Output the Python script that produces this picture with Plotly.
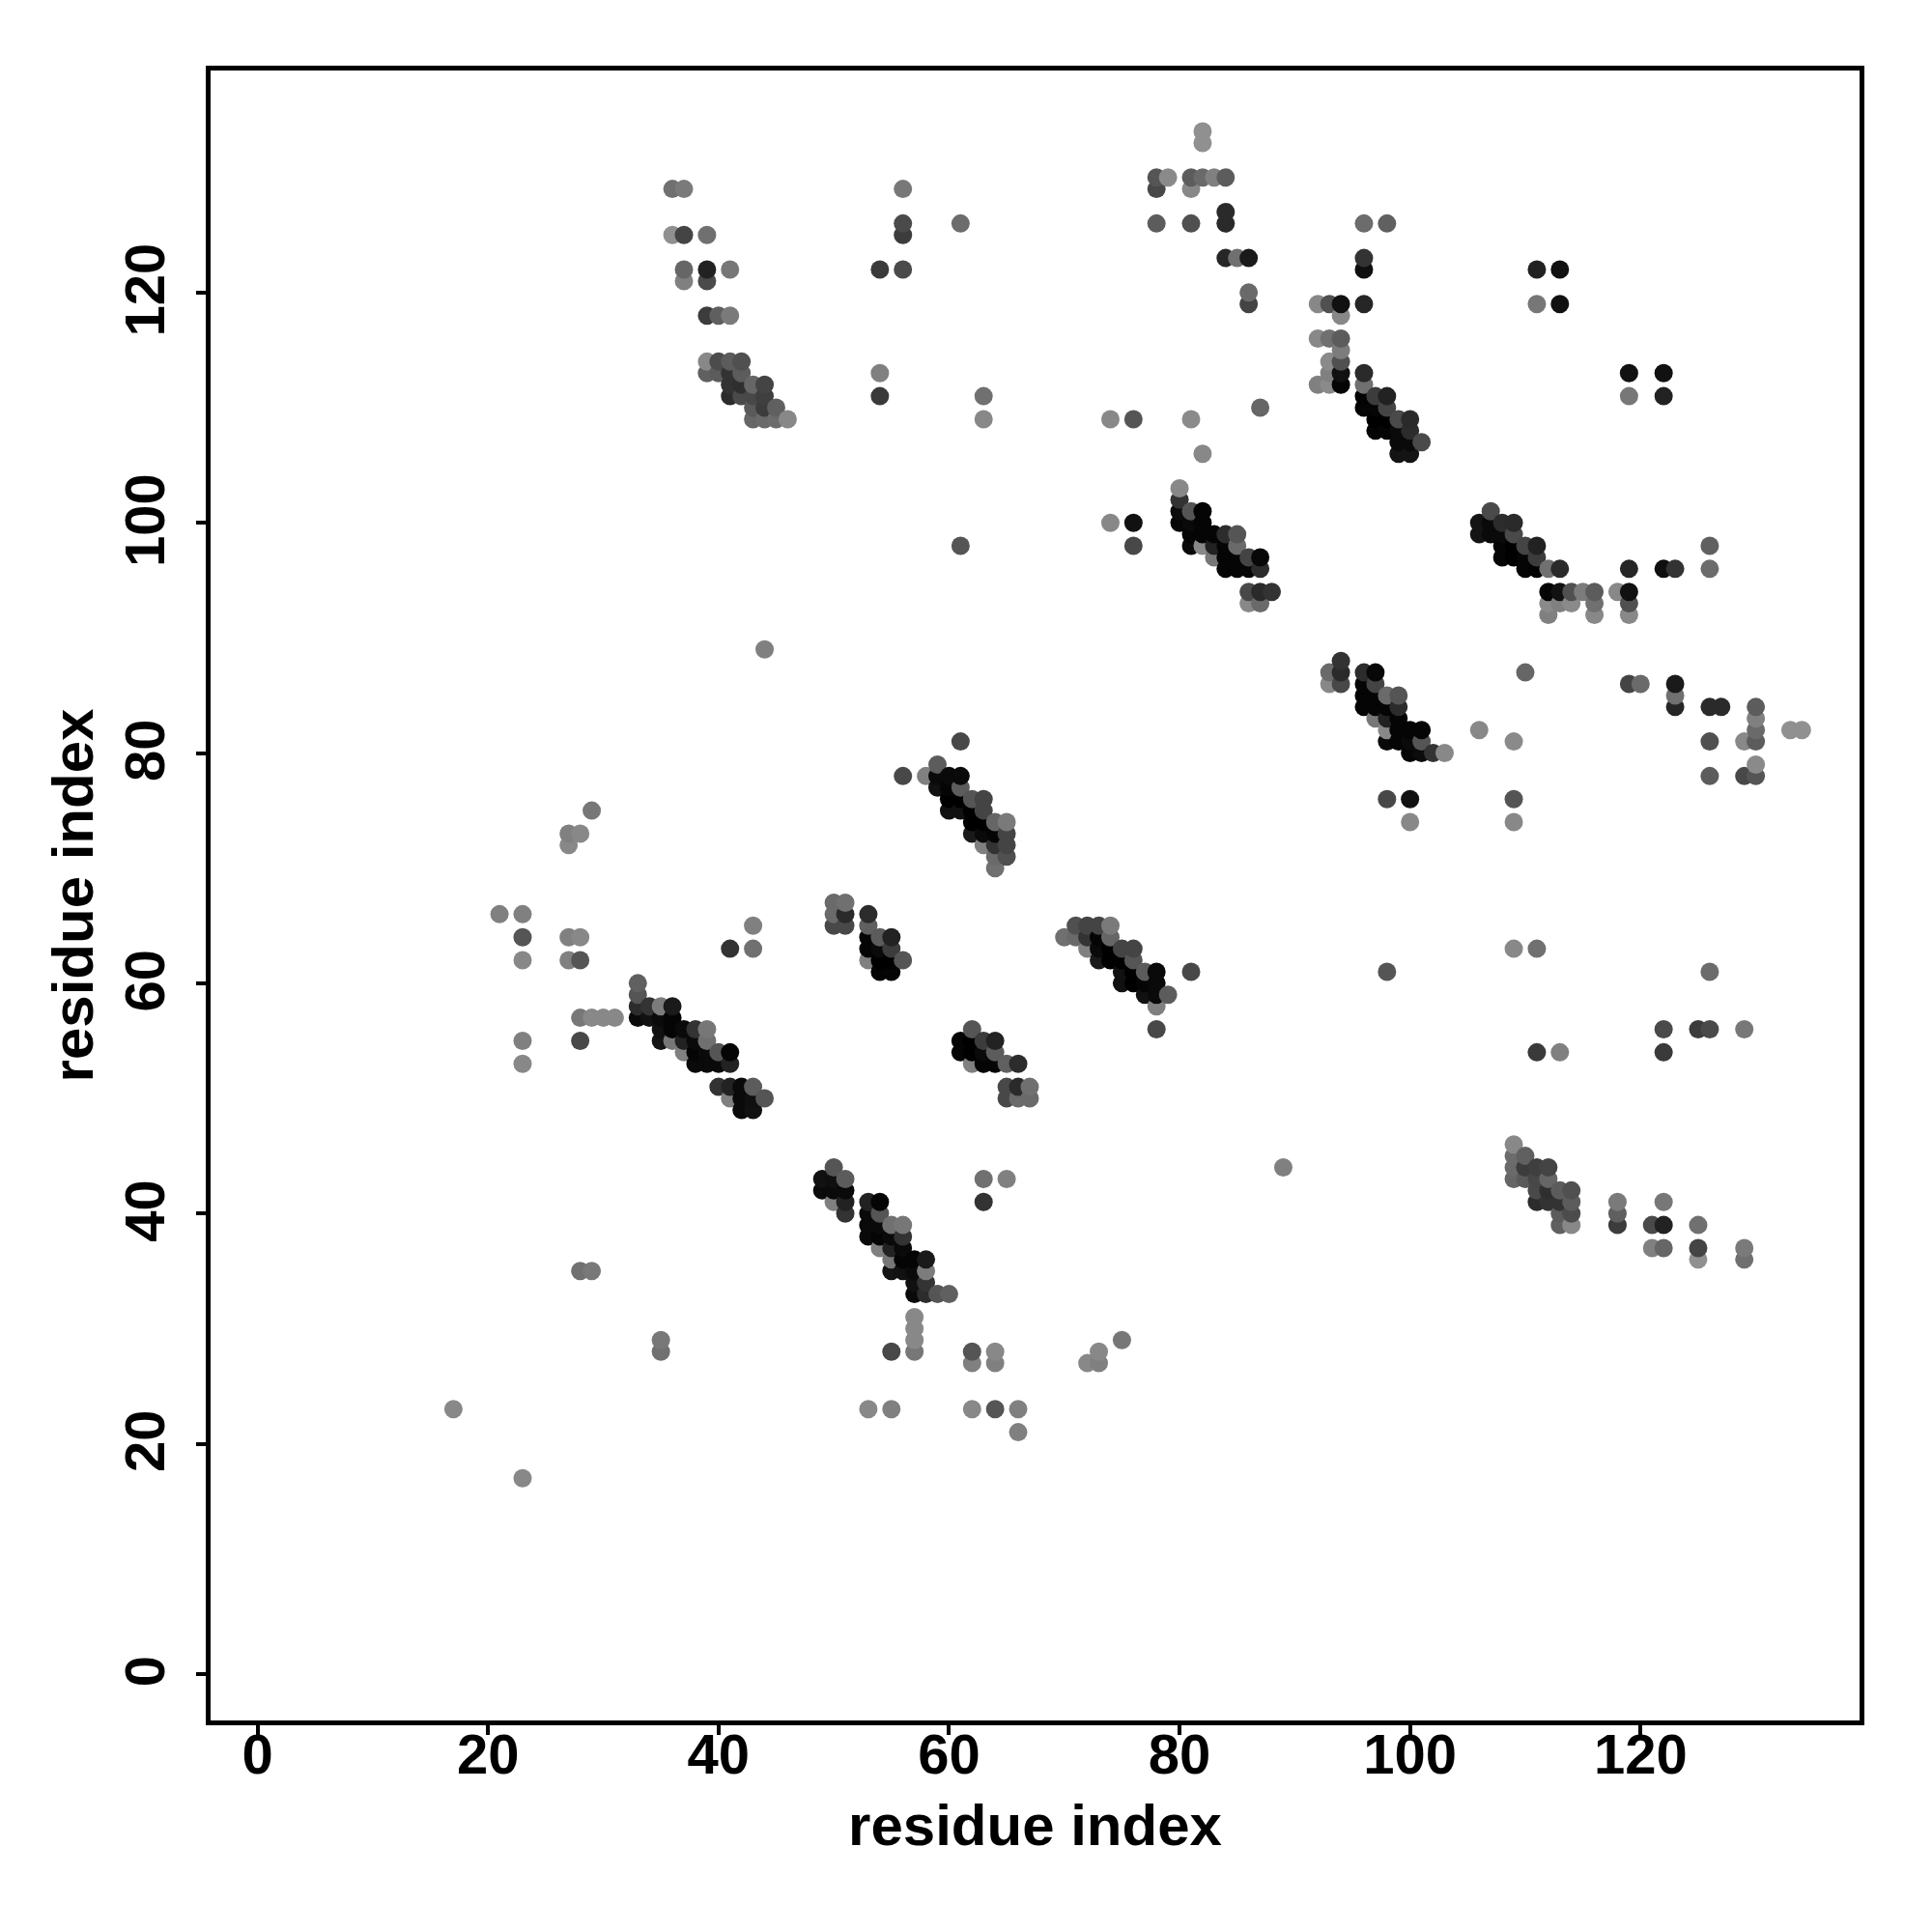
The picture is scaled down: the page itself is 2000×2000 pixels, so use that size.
import plotly.graph_objects as go

strand_a = [(36,129,0x70),(37,129,0x7a),(36,125,0x90),(37,125,0x44),(39,125,0x70),(37,122,0x66),(39,122,0x22),(41,122,0x77),
 (37,121,0x80),(39,121,0x4a),(39,118,0x3c),(40,118,0x5f),(41,118,0x7a),(39,114,0x88),(40,114,0x4c),(41,114,0x5c),(42,114,0x50),
 (39,113,0x60),(40,113,0x5c),(41,113,0x33),(42,113,0x5c),(41,112,0x33),(42,112,0x2f),(43,112,0x66),(44,112,0x44),
 (41,111,0x2c),(42,111,0x4a),(43,111,0x48),(44,111,0x3f),(43,110,0x5a),(44,110,0x3c),(45,110,0x60),
 (43,109,0x66),(44,109,0x6a),(45,109,0x6c),(46,109,0x88)]
isolated_a = [(56,129,0x78),(56,126,0x4a),(61,126,0x6c),(56,125,0x3c),(54,122,0x3a),(56,122,0x4a),(54,113,0x80),(54,111,0x3a),
 (63,111,0x70),(63,109,0x88),(61,98,0x55),(44,89,0x80)]
strand_b = [(82,134,0x90),(82,133,0x90),(78,130,0x55),(79,130,0x8a),(81,130,0x5c),(82,130,0x6a),(83,130,0x80),(84,130,0x5c),
 (78,129,0x48),(81,129,0x88),(84,127,0x2a),(84,126,0x2a),(78,126,0x5c),(81,126,0x50),(96,126,0x6c),(98,126,0x60),
 (84,123,0x26),(85,123,0x70),(86,123,0x1a),(96,123,0x33),(96,122,0x0f),(86,120,0x6a),(86,119,0x44),
 (92,119,0x88),(93,119,0x50),(94,119,0x11),(96,119,0x26),(94,118,0x88),(92,116,0x88),(93,116,0x70),(94,116,0x5c),
 (94,115,0x7c),(93,114,0x8a),(94,114,0x50),(93,113,0x80),(94,113,0x11),(96,113,0x2a),(92,112,0x80),(93,112,0x8a),(94,112,0x05),(96,112,0x70),
 (87,110,0x66),(74,109,0x88),(76,109,0x55),(81,109,0x8a),(82,106,0x88),
 (111,122,0x22),(113,122,0x11),(111,119,0x77),(113,119,0x11)]
strand_c = [(96,111,0x03),(97,111,0x3c),(98,111,0x22),(96,110,0x05),(97,110,0x05),(98,110,0x44),
 (97,109,0x00),(98,109,0x00),(99,109,0x4a),(100,109,0x2a),(97,108,0x05),(98,108,0x05),(99,108,0x0a),(100,108,0x2c),
 (99,107,0x0a),(100,107,0x0a),(101,107,0x4a),(99,106,0x14),(100,106,0x14)]
strand_d = [(74,100,0x88),(76,100,0x11),(76,98,0x48),(80,103,0x88),(80,102,0x33),(80,101,0x0c),(81,101,0x55),(82,101,0x05),
 (80,100,0x05),(81,100,0x0a),(82,100,0x05),(81,99,0x05),(82,99,0x05),(83,99,0x05),(84,99,0x2c),(85,99,0x55),
 (81,98,0x0a),(82,98,0x88),(83,98,0x22),(84,98,0x05),(85,98,0x6a),(83,97,0x77),(84,97,0x05),(85,97,0x05),(86,97,0x44),(87,97,0x08),
 (84,96,0x05),(85,96,0x05),(86,96,0x05),(87,96,0x2c),(86,94,0x48),(87,94,0x2a),(88,94,0x33),(86,93,0x88),(87,93,0x6a)]
helix_e = [(61,81,0x48),(56,78,0x48),(58,78,0x80),(59,79,0x5c),(59,78,0x0a),(60,78,0x0a),(61,78,0x0a),(59,77,0x11),(60,77,0x05),(61,77,0x5c),
 (60,76,0x00),(61,76,0x00),(62,76,0x55),(63,76,0x44),(60,75,0x11),(61,75,0x11),(62,75,0x00),(63,75,0x44),
 (62,74,0x00),(63,74,0x00),(64,74,0x66),(65,74,0x7a),(62,73,0x1a),(63,73,0x0a),(64,73,0x05),(65,73,0x44),
 (63,72,0x80),(64,72,0x33),(65,72,0x44),(64,71,0x6a),(65,71,0x50),(64,70,0x70)]
helix_f = [(41,63,0x33),(43,65,0x80),(43,63,0x70),(33,60,0x60),(33,59,0x55),(33,58,0x2c),(34,58,0x33),(35,58,0x7c),(36,58,0x1a),
 (30,57,0x88),(31,57,0x88),(33,57,0x0a),(34,57,0x11),(35,57,0x0a),(36,57,0x05),(35,56,0x11),(36,56,0x05),(37,56,0x0a),(38,56,0x33),(39,56,0x77),
 (35,55,0x14),(36,55,0x77),(37,55,0x22),(38,55,0x0a),(39,55,0x70),(37,54,0x80),(38,54,0x05),(39,54,0x0a),(40,54,0x55),(41,54,0x05),
 (38,53,0x0a),(39,53,0x0a),(40,53,0x0a),(41,53,0x22),(40,51,0x33),(41,51,0x22),(42,51,0x0a),(43,51,0x5c),
 (41,50,0x80),(42,50,0x0a),(43,50,0x0f),(44,50,0x55),(42,49,0x0a),(43,49,0x11)]
helix_g = [(50,67,0x6a),(51,67,0x70),(50,66,0x6a),(51,66,0x2a),(50,65,0x48),(51,65,0x48),(53,66,0x2c),(53,65,0x60),
 (53,64,0x05),(54,64,0x5c),(55,64,0x22),(53,63,0x05),(54,63,0x0a),(55,63,0x3c),(53,62,0x80),(54,62,0x00),(55,62,0x00),(56,62,0x55),
 (54,61,0x05),(55,61,0x05)]
isolated_h = [(17,23,0x88),(21,66,0x80),(23,66,0x80),(23,64,0x55),(23,62,0x88),(23,55,0x80),(23,53,0x88),
 (27,73,0x80),(28,73,0x88),(27,72,0x88),(29,75,0x77),(27,64,0x80),(28,64,0x88),(27,62,0x80),(28,62,0x55),
 (28,57,0x77),(29,57,0x88),(28,55,0x48),(28,35,0x70),(29,35,0x78)]

tick_values = [0, 20, 40, 60, 80, 100, 120]
axis_title = "residue index"

upper = strand_a + isolated_a + strand_b + strand_c + strand_d + helix_e + helix_f + helix_g + isolated_h
contacts = sorted(upper + [(j, i, g) for i, j, g in upper], key=lambda c: (c[0], c[1]))

fig = go.Figure(go.Scatter(
    x=[c[0] for c in contacts], y=[c[1] for c in contacts], mode="markers",
    marker=dict(size=19, color=[f"rgb({c[2]},{c[2]},{c[2]})" for c in contacts], line=dict(width=0)),
    hoverinfo="skip"))

tick_font = dict(family="Liberation Sans", size=58, color="black", weight="bold")
title_font = dict(family="Liberation Sans", size=60, color="black", weight="bold")
common = dict(tickvals=tick_values, ticks="outside", ticklen=10, tickwidth=4, tickcolor="black",
              showgrid=False, zeroline=False, showline=True, mirror=True, linewidth=5, linecolor="black",
              tickfont=tick_font)
fig.update_xaxes(range=[-4.07, 139.0], ticklabelstandoff=-30,
                 title=dict(text=axis_title, font=title_font, standoff=23), **common)
fig.update_yaxes(range=[-4.04, 139.29], tickangle=-90, ticklabelstandoff=10, ticklabelshift=6,
                 title=dict(text=axis_title, font=title_font, standoff=2), **common)
fig.update_layout(width=2000, height=2000, margin=dict(l=218, r=75, t=73, b=219, autoexpand=False),
                  plot_bgcolor="white", paper_bgcolor="white", showlegend=False)
fig.write_html("out.html", config=dict(displayModeBar=False),
               post_script="document.body.style.margin='0';")
